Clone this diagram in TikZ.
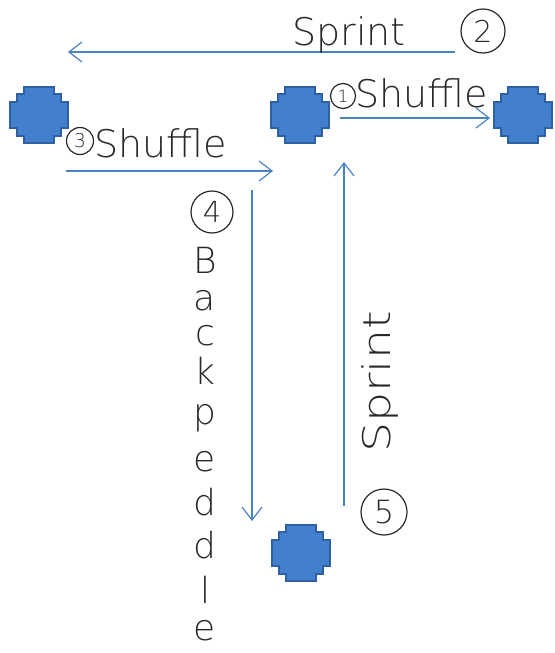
\documentclass[tikz,border=0pt]{standalone}
\usepackage{fontspec}
\setmainfont{DejaVu Sans}[UprightFont={* ExtraLight}]
\usetikzlibrary{arrows.meta}
\definecolor{coneblue}{RGB}{66,128,206}
\definecolor{coneedge}{RGB}{46,96,166}
\definecolor{pathblue}{RGB}{74,130,198}
\definecolor{pencil}{RGB}{40,40,40}
\tikzset{
  cone/.pic={
    \fill[coneblue,draw=coneedge,line width=1.2pt]
      (-15,-28) -- (15,-28) -- (15,-21) -- (22,-21) -- (22,-13) -- (29,-13)
      -- (29,13) -- (22,13) -- (22,21) -- (15,21) -- (15,28) -- (-15,28)
      -- (-15,21) -- (-22,21) -- (-22,13) -- (-29,13) -- (-29,-13) -- (-22,-13)
      -- (-22,-21) -- (-15,-21) -- cycle;
  },
  run/.style={draw=pathblue,line width=1.2pt,
    -{Straight Barb[length=13pt,width=20pt,line width=1.2pt]}},
  hand/.style={text=pencil,inner sep=0pt,font=\fontsize{38}{40}\selectfont},
  letter/.style={text=pencil,inner sep=0pt,font=\fontsize{36}{37}\selectfont},
  num/.style n args={2}{circle,draw=pencil,line width=1.2pt,text=pencil,
    inner sep=0pt,minimum size=#1,font=\fontsize{#2}{#2}\selectfont},
}
\begin{document}
\begin{tikzpicture}[x=1pt,y=-1pt]
  \useasboundingbox (0,0) rectangle (554,653);
  \begin{scope}
    \clip (0,0) rectangle (554,653);
    % cones
    \pic (west)   at (39,115)  {cone};
    \pic (centre) at (300,115) {cone};
    \pic (east)   at (523,115) {cone};
    \pic (south)  at (301,553) {cone};
  \end{scope}

  % arrow end points
  \coordinate (s2a) at (455,52);  \coordinate (s2b) at (68,52);
  \coordinate (s1a) at (340,118); \coordinate (s1b) at (490,118);
  \coordinate (s3a) at (66,171);  \coordinate (s3b) at (273,171);
  \coordinate (s4a) at (252,190); \coordinate (s4b) at (252,521);
  \coordinate (s5a) at (344,506); \coordinate (s5b) at (344,162);

  \draw[run] (s2a) -- (s2b);
  \draw[run] (s1a) -- (s1b);
  \draw[run] (s3a) -- (s3b);
  \draw[run] (s4a) -- (s4b);
  \draw[run] (s5a) -- (s5b);

  % step 2
  \node[hand,anchor=base west] (t2) at (292,45) {Sprint};
  \node[num={44}{30}] (n2) at (483,31) {2};
  % step 1
  \node[num={25}{17}] (n1) at (343,96) {1};
  \node[hand,anchor=base west] (t1) at (355,107) {Shuffle};
  % step 3
  \node[num={27}{19}] (n3) at (80,141) {3};
  \node[hand,anchor=base west] (t3) at (94,157) {Shuffle};
  % step 4
  \node[num={42}{29}] (n4) at (212,212) {4};
  \node[letter] (b1) at (205,260) {B};
  \node[letter] (b2) at (205,301) {a};
  \node[letter] (b3) at (205,336) {c};
  \node[letter] (b4) at (205,371) {k};
  \node[letter] (b5) at (205,418) {p};
  \node[letter] (b6) at (205,462) {e};
  \node[letter] (b7) at (205,502) {d};
  \node[letter] (b8) at (205,545) {d};
  \node[letter] (b9) at (205,590) {l};
  \node[letter] (b10) at (205,631) {e};
  % step 5
  \node[hand,rotate=90] (t5) at (380,382) {\scalebox{1.25}[1]{Sprint}};
  \node[num={46}{32}] (n5) at (384,512) {5};
\end{tikzpicture}
\end{document}
